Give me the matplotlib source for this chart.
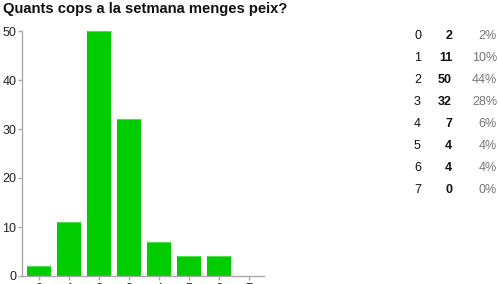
import matplotlib.pyplot as plt
import numpy as np

plt.rcParams['font.family'] = ['Liberation Sans', 'DejaVu Sans']

title = "Quants cops a la setmana menges peix?"
categories = ["0", "1", "2", "3", "4", "5", "6", "7"]
counts = [2, 11, 50, 32, 7, 4, 4, 0]
percents = ["2%", "10%", "44%", "28%", "6%", "4%", "4%", "0%"]
yticks = [0, 10, 20, 30, 40, 50]

W, H = 498, 284
fig = plt.figure(figsize=(W / 100, H / 100), dpi=100)

# plot area in pixels: x 22..264, y 31..276
ax = fig.add_axes([22 / W, (H - 276) / H, (264 - 22) / W, (276 - 31) / H])
x = np.arange(len(categories))
ax.bar(x, counts, width=0.8, color="#00cc00", edgecolor="none")
# thin lighter line on top of each bar
for xi, c in zip(x, counts):
    if c > 0:
        ax.plot([xi - 0.4, xi + 0.4], [c, c], color="#55dd55", lw=0.8, solid_capstyle="butt")

ax.set_xlim(-0.57, 7.5)
ax.set_ylim(0, 50)
ax.set_yticks(yticks)
ax.set_xticks(x)
ax.set_xticklabels(categories)

for side in ["top", "right"]:
    ax.spines[side].set_visible(False)
for side in ["left", "bottom"]:
    ax.spines[side].set_color("#aaaaaa")
    ax.spines[side].set_linewidth(1.0)
ax.tick_params(axis="y", length=3, width=1, color="#aaaaaa", labelsize=9,
               labelcolor="#222222", pad=1)
ax.tick_params(axis="x", length=3, width=1, color="#aaaaaa", labelsize=9,
               labelcolor="#222222", pad=2)

fig.text(3 / W, 1 - 9 / H, title, fontsize=10.6, fontweight="bold",
         va="center", ha="left", color="#111111")

# summary table on the right
for i, (cat, cnt, pct) in enumerate(zip(categories, counts, percents)):
    y = 1 - (35.7 + i * 22.05) / H
    fig.text(414 / W, y, cat, fontsize=9, ha="left", va="center", color="#111111")
    fig.text(452 / W, y, str(cnt), fontsize=9, fontweight="bold", ha="right",
             va="center", color="#111111")
    fig.text(497 / W, y, pct, fontsize=9, ha="right", va="center", color="#777777")

fig.savefig("out.png", dpi=100)
